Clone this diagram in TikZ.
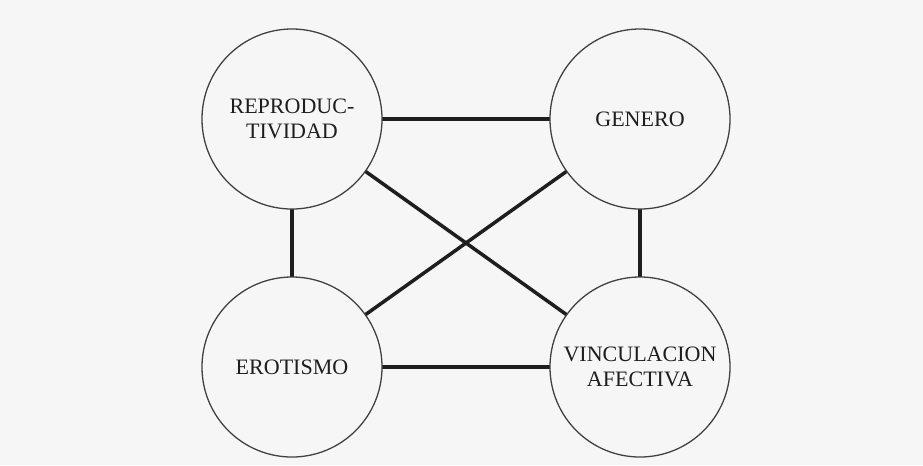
\documentclass[tikz,border=0pt]{standalone}
\usepackage{fontspec}
\setmainfont{Liberation Serif}
\usepackage{tikz}
\definecolor{paper}{RGB}{246,246,246}
\definecolor{ink}{RGB}{30,30,30}

\begin{document}
\begin{tikzpicture}[
    x=0.03cm, y=-0.03cm,
    circ/.style={circle, draw=ink!85, line width=1.1pt, fill=paper, minimum size=5.4cm, align=center, inner sep=0pt, text=ink, font=\fontsize{18.8}{21.5}\selectfont},
    link/.style={draw=ink, line width=3pt}
]
    % Paper
    \fill[paper] (0, 0) rectangle (923, 465);
    \useasboundingbox (0, 0) rectangle (923, 465);

    % Links (behind the circles)
    \coordinate (c1) at (292, 119);
    \coordinate (c2) at (640, 119);
    \coordinate (c3) at (292, 367);
    \coordinate (c4) at (640, 367);
    \draw[link] (c1) -- (c2);
    \draw[link] (c1) -- (c3);
    \draw[link] (c2) -- (c4);
    \draw[link] (c3) -- (c4);
    \draw[link] (c1) -- (c4);
    \draw[link] (c3) -- (c2);

    % Circles
    \node[circ] (repro) at (c1) {REPRODUC-\\TIVIDAD};
    \node[circ] (genero) at (c2) {GENERO};
    \node[circ] (eros) at (c3) {EROTISMO};
    \node[circ] (vinc) at (c4) {VINCULACION\\AFECTIVA};
\end{tikzpicture}
\end{document}
